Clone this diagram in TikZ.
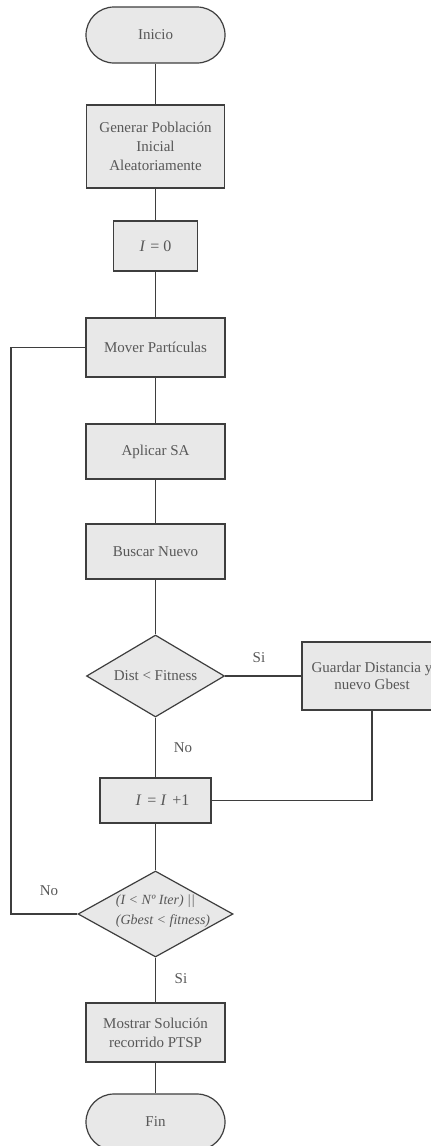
\documentclass[tikz,border=0pt]{standalone}
\usepackage{fontspec}
\setmainfont{Liberation Serif}
\usetikzlibrary{shapes.geometric,shapes.misc}
\definecolor{boxfill}{RGB}{232,232,232}
\definecolor{boxdraw}{RGB}{62,62,62}
\definecolor{txt}{RGB}{88,88,88}
\begin{document}
\begin{tikzpicture}[x=1pt,y=-1pt,
  base/.style={draw=boxdraw,fill=boxfill,line width=1.2pt,text=txt,
    font=\fontsize{15}{19}\selectfont,inner sep=0pt,align=center},
  proc/.style={base,rectangle,minimum width=139pt},
  term/.style={base,rounded rectangle,minimum width=139pt,minimum height=56pt},
  dec/.style={base,diamond},
  plain/.style={text=txt,inner sep=0pt,font=\fontsize{15}{19}\selectfont},
  lbl/.style={plain},
  conn/.style={draw=boxdraw,line width=1.2pt}]
\useasboundingbox (0,0) rectangle (431,1146);
\clip (0,0) rectangle (431,1146);
\fill[white] (0,0) rectangle (431,1146);

\node[term] (inicio) at (155.5,35) {Inicio};
\node[proc,minimum width=138pt,minimum height=83pt] (gen) at (155.5,146.5)
  {Generar Población\\Inicial\\Aleatoriamente};
\node[proc,minimum width=84pt,minimum height=50pt,font=\fontsize{16}{19}\selectfont] (i0) at (155.5,246)
  {\textit{I}\hspace{5pt}=\hspace{4pt}0};
\node[proc,minimum height=59pt] (mover) at (155.5,347.5) {Mover Partículas};
\node[proc,minimum height=55pt] (aplicar) at (155.5,451.5) {Aplicar SA};
\node[proc,minimum height=55pt] (buscar) at (155.5,551.5) {Buscar Nuevo};
\node[dec,minimum width=138pt,minimum height=82pt] (dist) at (155.5,676) {};
\node[plain] (disttext) at (155.5,676) {Dist < Fitness};
\node[proc,minimum width=140pt,minimum height=68pt,font=\fontsize{15}{17}\selectfont] (guardar) at (372,676)
  {Guardar Distancia y\\nuevo Gbest};
\node[proc,minimum width=111pt,minimum height=45pt,font=\fontsize{16}{19}\selectfont] (inc) at (155.5,800.5)
  {\hspace{14pt}\textit{I}\hspace{6pt}=\hspace{4pt}\textit{I}\hspace{6pt}+1};
\node[dec,minimum width=155pt,minimum height=86pt] (cond) at (155.5,914) {};
\node[plain,align=left,font=\itshape\fontsize{14}{20}\selectfont] (condtext) at (163,911)
  {(I < Nº Iter) ||\\(Gbest < fitness)};
\node[proc,minimum height=59pt] (mostrar) at (155.5,1032.5) {Mostrar Solución\\recorrido PTSP};
\node[term] (fin) at (155.5,1122) {Fin};

\node[lbl] (si1) at (259,658) {Si};
\node[lbl] (no1) at (183,748) {No};
\node[lbl] (no2) at (49,891) {No};
\node[lbl] (si2) at (181,979) {Si};

\coordinate (lpb) at (11,914);
\coordinate (lpt) at (11,347.5);

\draw[conn] (inicio.south) -- (gen.north);
\draw[conn] (gen.south) -- (i0.north);
\draw[conn] (i0.south) -- (mover.north);
\draw[conn] (mover.south) -- (aplicar.north);
\draw[conn] (aplicar.south) -- (buscar.north);
\draw[conn] (buscar.south) -- (dist.north);
\draw[conn] (dist.east) -- (guardar.west);
\draw[conn] (dist.south) -- (inc.north);
\draw[conn] (guardar.south) |- (inc.east);
\draw[conn] (inc.south) -- (cond.north);
\draw[conn] (cond.west) -- (lpb) -- (lpt) -- (mover.west);
\draw[conn] (cond.south) -- (mostrar.north);
\draw[conn] (mostrar.south) -- (fin.north);
\end{tikzpicture}
\end{document}
